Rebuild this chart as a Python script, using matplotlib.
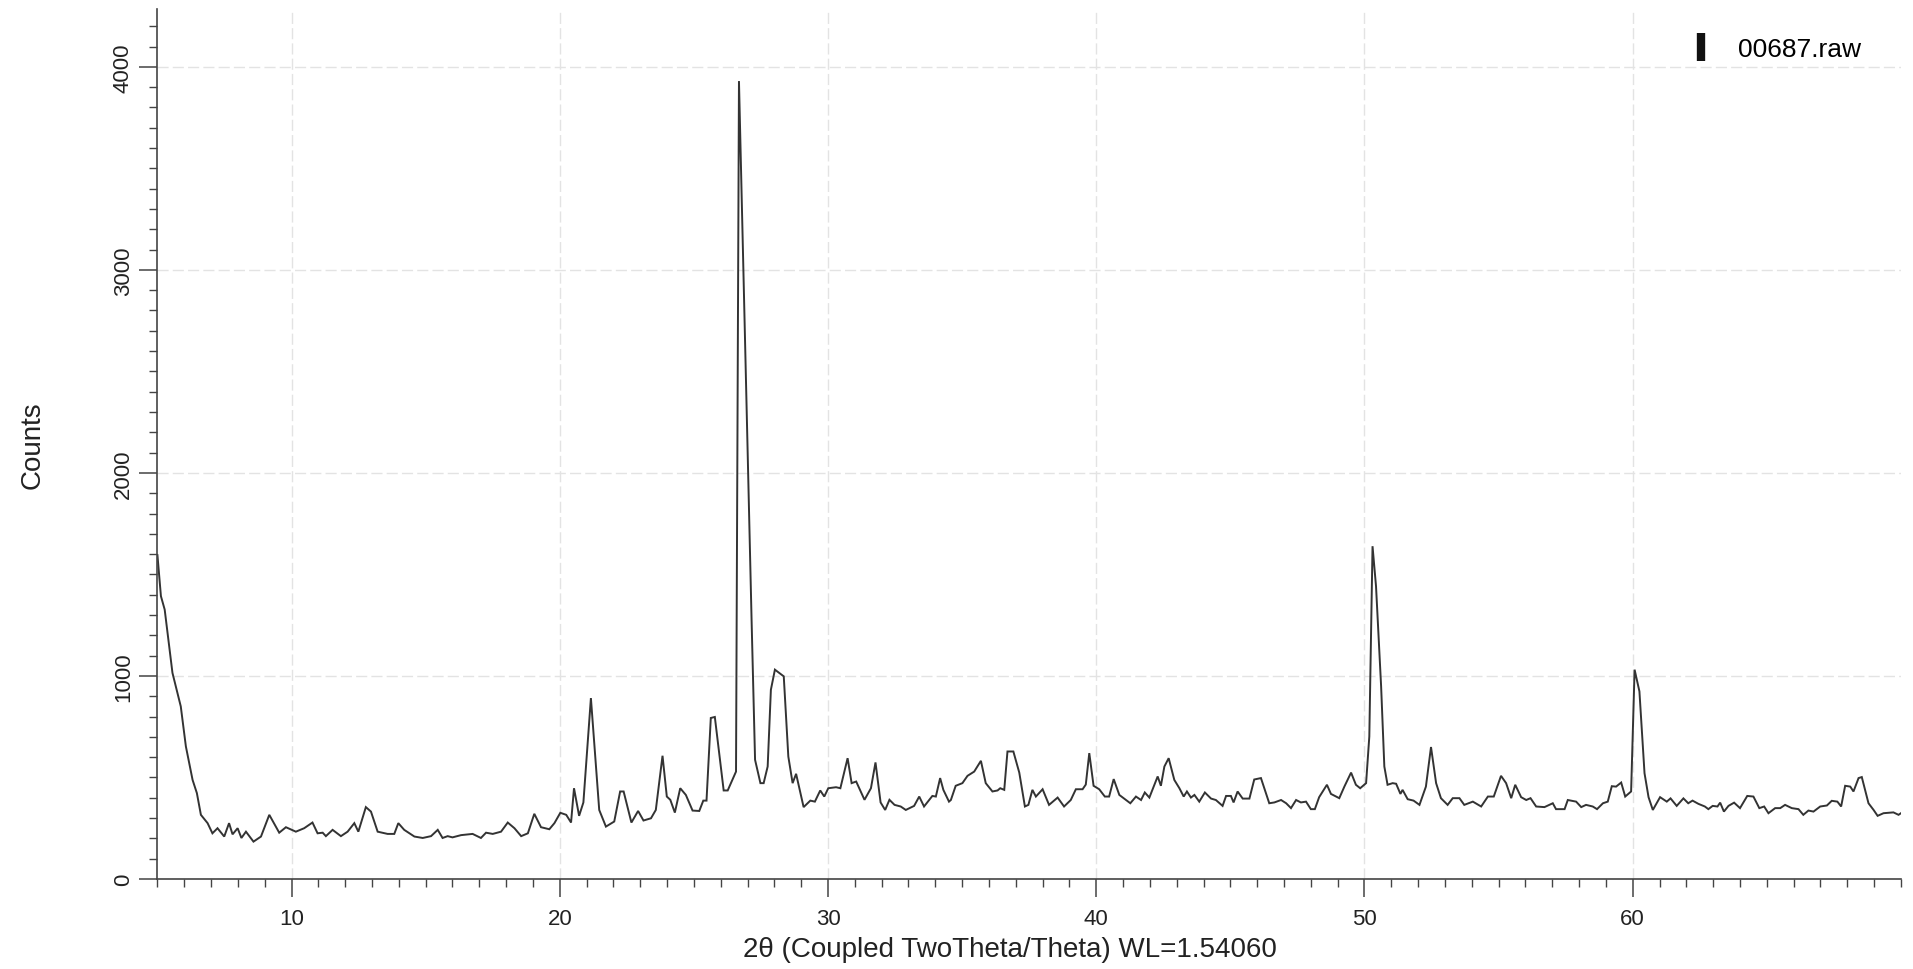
import matplotlib
matplotlib.use("Agg")
import matplotlib.pyplot as plt
from matplotlib.lines import Line2D
from matplotlib.ticker import MultipleLocator

plt.rcParams['font.family'] = ['Liberation Sans', 'DejaVu Sans']

two_theta = [
    5.00, 5.13, 5.27, 5.56, 5.87, 6.06, 6.31, 6.47, 6.62, 6.87, 7.05, 7.24, 7.49, 7.67, 7.80,
    7.99, 8.13, 8.30, 8.58, 8.86, 9.17, 9.54, 9.79, 10.16, 10.47, 10.78, 10.97, 11.16, 11.28,
    11.53, 11.84, 12.09, 12.34, 12.49, 12.77, 12.96, 13.21, 13.58, 13.83, 13.98, 14.20, 14.58,
    14.89, 15.20, 15.45, 15.63, 15.82, 16.00, 16.32, 16.75, 17.06, 17.25, 17.50, 17.81, 18.06,
    18.31, 18.56, 18.81, 19.05, 19.30, 19.61, 19.80, 20.02, 20.24, 20.42,
    20.53, 20.72, 20.88, 21.16, 21.47, 21.72, 22.03, 22.25, 22.38, 22.67, 22.92, 23.12, 23.40,
    23.58, 23.83, 23.99, 24.12, 24.29, 24.49, 24.70, 24.95, 25.20, 25.35, 25.47, 25.63, 25.78,
    26.11, 26.26, 26.57, 26.68, 27.15, 27.28, 27.48, 27.60, 27.75, 27.87, 28.02, 28.35, 28.52,
    28.68, 28.81, 29.09, 29.34, 29.51, 29.71, 29.86, 30.01, 30.30, 30.46, 30.73, 30.88, 31.05,
    31.36, 31.60, 31.77, 31.96, 32.13, 32.29, 32.48,
    32.71, 32.90, 33.21, 33.40, 33.58, 33.89, 34.02, 34.18, 34.30, 34.51, 34.58, 34.76, 35.01,
    35.20, 35.45, 35.70, 35.88, 36.13, 36.32, 36.42, 36.57, 36.69, 36.91, 37.13, 37.34, 37.47,
    37.62, 37.75, 38.00, 38.24, 38.56, 38.80, 39.05, 39.24, 39.49, 39.61, 39.74, 39.90, 40.11,
    40.32, 40.48, 40.65, 40.86, 41.04, 41.27, 41.48, 41.67, 41.81, 41.98, 42.29, 42.41, 42.54,
    42.70, 42.91, 43.10, 43.26, 43.38, 43.53, 43.66, 43.84, 44.05, 44.28, 44.46, 44.71, 44.84,
    45.02, 45.12, 45.27, 45.46, 45.71, 45.89, 46.14, 46.45, 46.64, 46.89, 47.08, 47.26, 47.45,
    47.63, 47.82, 48.00, 48.15, 48.31, 48.60, 48.75, 49.06, 49.25, 49.50, 49.68, 49.84, 50.06,
    50.18, 50.30, 50.43, 50.62, 50.74, 50.86, 51.05, 51.18, 51.34, 51.42, 51.61, 51.83, 52.05,
    52.29, 52.48, 52.67, 52.85, 53.10, 53.29, 53.54, 53.72, 54.04, 54.35, 54.60, 54.82, 55.09,
    55.28, 55.47, 55.62, 55.84, 56.03, 56.19, 56.40, 56.71, 57.02, 57.14, 57.46, 57.58, 57.89,
    58.08, 58.26, 58.51, 58.67, 58.89, 59.07, 59.22, 59.38, 59.57, 59.72, 59.94, 60.07, 60.25,
    60.44, 60.59, 60.75,
    61.02, 61.27, 61.41, 61.64, 61.89, 62.07, 62.23, 62.45, 62.69, 62.82, 62.98, 63.16, 63.26,
    63.40, 63.57, 63.78, 64.00, 64.27, 64.50, 64.72, 64.90, 65.06, 65.31, 65.50, 65.68, 65.93,
    66.18, 66.36, 66.55, 66.74, 66.99, 67.24, 67.42, 67.63, 67.77, 67.92, 68.11, 68.23, 68.42,
    68.54, 68.79, 68.98, 69.13, 69.35, 69.72, 69.91, 70.00,
]

counts = [
    1595, 1393, 1327, 1015, 850, 653, 488, 423, 316, 275, 225, 250, 209, 275, 220,
    250, 202, 233, 184, 209, 316, 228, 255, 233, 250, 278, 225, 228, 211,
    242, 211, 233, 275, 233, 354, 332, 233, 222, 222, 275, 242, 209,
    202, 211, 242, 202, 211, 205, 216, 222, 202, 228, 222, 233, 278,
    250, 211, 225, 321, 255, 245, 275, 326, 316, 278,
    447, 311, 377, 891, 340, 258, 283, 431, 431, 278, 335, 288, 299,
    340, 607, 406, 390, 327, 447, 414, 337, 335, 386, 386, 793, 798,
    436, 436, 529, 3930, 1277, 587, 472, 472, 554, 932, 1031, 998, 603,
    472, 518, 354, 386, 381, 436, 406, 447, 452, 447, 595, 472, 480,
    390, 447, 574, 377, 340, 390, 365,
    357, 340, 360, 406, 357, 409, 406, 497, 439, 381, 389, 459, 472,
    508, 529, 582, 472, 431, 436, 447, 439, 628, 628, 524, 357, 365,
    439, 406, 442, 365, 401, 357, 389, 442, 442, 465, 620, 459, 442,
    406, 406, 492, 414, 396, 373, 406, 389, 426, 401, 505, 459, 554,
    595, 488, 447, 406, 431, 401, 414, 381, 426, 396, 389, 360, 409,
    409, 377, 431, 396, 396, 490, 497, 373, 377, 389, 373, 349, 389,
    377, 381, 344, 344, 403, 464, 419, 398, 455, 524, 464, 447, 472,
    702, 1639, 1442, 949, 554, 464, 472, 469, 419, 439, 393, 386, 365,
    455, 650, 472, 398, 365, 398, 398, 365, 381, 357, 406, 406, 508,
    472, 398, 464, 403, 389, 398, 357, 354, 373, 344, 344, 389, 381,
    354, 365, 357, 344, 373, 381, 457, 455, 475, 406, 431, 1031, 924,
    521, 403, 340,
    403, 381, 397, 360, 397, 373, 386, 370, 357, 344, 360, 357, 376,
    332, 360, 376, 349, 409, 406, 349, 357, 324, 349, 349, 365, 349,
    344, 316, 337, 332, 357, 362, 385, 381, 357, 459, 455, 431, 497,
    502, 373, 340, 311, 324, 328, 316, 324,
]

legend_label = "00687.raw"
x_label = "2θ (Coupled TwoTheta/Theta) WL=1.54060"
y_label = "Counts"
x_major = [10, 20, 30, 40, 50, 60]
y_major = [0, 1000, 2000, 3000, 4000]

fig = plt.figure(figsize=(19.13, 9.70), dpi=100)
ax = fig.add_axes([0.0823, 0.0928, 0.9114, 0.8969])

line_color = '#333333'
ax.plot(two_theta, counts, color=line_color, lw=1.4, solid_joinstyle='miter')

ax.set_xlim(5, 70)
ax.set_ylim(0, 4285)

ax.set_xticks(x_major)
ax.set_yticks(y_major)
ax.xaxis.set_minor_locator(MultipleLocator(1))
ax.yaxis.set_minor_locator(MultipleLocator(100))

ax.grid(True, which='major', color='#e3e3e3', lw=1.0, ls=(0, (8, 3)))
ax.set_axisbelow(True)

for s in ['top', 'right']:
    ax.spines[s].set_visible(False)
for s in ['left', 'bottom']:
    ax.spines[s].set_color('#444444')
    ax.spines[s].set_linewidth(1.2)

ax.tick_params(axis='both', which='major', direction='out', length=13, width=1.1,
               color='#444444', labelsize=16, labelcolor='#222222')
ax.tick_params(axis='both', which='minor', direction='out', length=6, width=1.0,
               color='#444444')
ax.tick_params(axis='x', which='major', pad=8)
ax.tick_params(axis='y', which='major', pad=4)
plt.setp(ax.get_yticklabels(), rotation=90, va='center', ha='right')

ax.set_xlabel(x_label, fontsize=20, color='#222222')
ax.xaxis.set_label_coords(0.489, -0.066)
ax.set_ylabel(y_label, fontsize=20, color='#222222')
ax.yaxis.set_label_coords(-0.064, 0.5)

handle = Line2D([], [], marker='|', markersize=20, markeredgewidth=6,
                linestyle='none', color='#111111')
ax.legend([handle], [legend_label], loc='upper right', frameon=False,
          fontsize=19, handlelength=1.0, handletextpad=0.9,
          bbox_to_anchor=(0.985, 0.985), bbox_transform=fig.transFigure)

fig.savefig('out.png', dpi=100, facecolor='white')
